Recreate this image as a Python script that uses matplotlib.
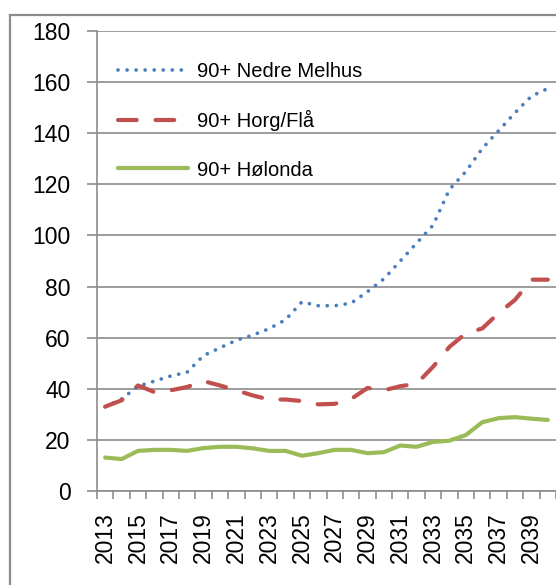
import numpy as np
import matplotlib
matplotlib.use('Agg')
import matplotlib.pyplot as plt
from matplotlib.lines import Line2D

# årstall
years = list(range(2013, 2041))

# 90+ per område (lest av bildet)
nedre_melhus = [33, 36, 41, 43, 45, 46.5, 53, 56, 59, 61, 63.5, 67, 74, 72.5, 72.5, 73.5,
                78, 83, 90, 97, 104, 118, 125, 134, 141, 148, 154.5, 157.5]
horg_fla = [33, 35.5, 41.3, 38.7, 39.4, 40.7, 43, 41.3, 39.4, 37.4, 35.8, 35.8, 35.2, 33.9,
            34.1, 36, 40.3, 39.4, 41, 42, 48.6, 56.4, 61.7, 63.6, 69.6, 74.8, 82.7, 82.7]
holonda = [13.1, 12.5, 15.7, 16.1, 16.1, 15.7, 16.8, 17.3, 17.3, 16.7, 15.7, 15.7, 13.8, 14.8,
           16.1, 16.1, 14.8, 15.2, 17.8, 17.3, 19.2, 19.7, 21.9, 26.9, 28.5, 28.9, 28.3, 27.8]

labels = ['90+ Nedre Melhus', '90+ Horg/Flå', '90+ Hølonda']
farger = ['#4A7EBB', '#C0504D', '#9BBB59']

plt.rcParams['font.family'] = ['Liberation Sans', 'DejaVu Sans']

W, H = 556, 585
fig = plt.figure(figsize=(W / 100, H / 100), dpi=100)
ax = fig.add_axes([97 / W, 1 - 491 / H, 1 - 97 / W, (491 - 31) / H])

x = np.arange(len(years))
ax.plot(x, nedre_melhus, color=farger[0], lw=2.7, linestyle=(0, (0.01, 2.4)),
        dash_capstyle='round', label=labels[0])
ax.plot(x, horg_fla, color=farger[1], lw=3.0, linestyle=(0, (4.5, 4.5)),
        dash_capstyle='round', label=labels[1])
ax.plot(x, holonda, color=farger[2], lw=3.0, solid_capstyle='round', label=labels[2])

ax.set_xlim(-0.5, len(years) - 0.5)
ax.set_ylim(0, 180)
ax.set_yticks(range(0, 181, 20))
ax.yaxis.grid(True, color='#8c8c8c', lw=1.2)
ax.set_axisbelow(True)

ax.set_xticks(x[::2])
ax.set_xticklabels([str(y) for y in years[::2]], rotation=90)
ax.set_xticks(np.arange(-0.5, len(years), 1), minor=True)
ax.tick_params(axis='x', which='major', length=0, pad=15, labelsize=16.5)
ax.tick_params(axis='x', which='minor', length=6, color='#8c8c8c', width=1.2)
ax.tick_params(axis='y', length=7, color='#8c8c8c', width=1.2, labelsize=16.5, pad=12)

for s in ['top', 'right']:
    ax.spines[s].set_visible(False)
for s in ['left', 'bottom']:
    ax.spines[s].set_color('#8c8c8c')
    ax.spines[s].set_linewidth(1.2)

ax.legend(loc='upper left', bbox_to_anchor=(0.028, 0.95), frameon=False, fontsize=14.5,
          handlelength=3.5, handletextpad=0.45, labelspacing=1.45, borderaxespad=0)

# ytre ramme
fig.add_artist(Line2D([10 / W, 10 / W], [0, 1 - 15 / H], color='#8c8c8c', lw=1.6,
                      transform=fig.transFigure))
fig.add_artist(Line2D([10 / W, 1], [1 - 15 / H, 1 - 15 / H], color='#8c8c8c', lw=1.6,
                      transform=fig.transFigure))

fig.savefig('out.png', dpi=100)
